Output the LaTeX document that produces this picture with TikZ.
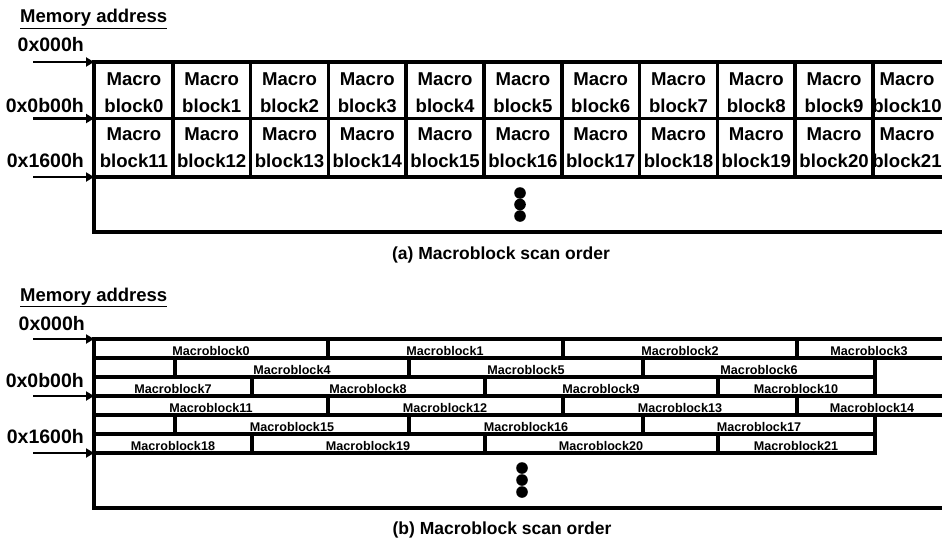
\documentclass[tikz,border=0pt]{standalone}
\usepackage{fontspec}
\setmainfont{Liberation Sans}
\usetikzlibrary{arrows.meta}

\tikzset{
    frame/.style = {line width = 3.5pt},
    ptr/.style = {line width = 2.5pt, -{Triangle[length = 8pt, width = 9pt]}},
    addr/.style = {font = \bfseries\fontsize{19.5}{22}\selectfont, inner sep = 0pt, anchor = base east},
    title/.style = {font = \bfseries\fontsize{18.5}{22}\selectfont, inner sep = 0pt, anchor = base west},
    cell/.style = {font = \bfseries\fontsize{18.6}{27}\selectfont, inner sep = 0pt, align = center, anchor = base},
    mb/.style = {font = \bfseries\fontsize{12.6}{14}\selectfont, inner sep = 0pt, anchor = base},
    capt/.style = {font = \bfseries\fontsize{17.5}{20}\selectfont, inner sep = 0pt, anchor = base}
}

\begin{document}
\begin{tikzpicture}[x = 1pt, y = -1pt]
    \useasboundingbox (0, 0) rectangle (942, 543);

    % (a)
    \node[title] (ttla) at (20, 23) {\underline{Memory address}};
    \node[addr] (a0) at (84, 52) {0x000h};
    \node[addr] (a1) at (84, 112) {0x0b00h};
    \node[addr] (a2) at (84, 167) {0x1600h};
    \coordinate (pa0) at (33, 62);
    \coordinate (pa1) at (33, 118.5);
    \coordinate (pa2) at (33, 177);
    \coordinate (fa0) at (94, 62);
    \coordinate (fa1) at (94, 118.5);
    \coordinate (fa2) at (94, 177);
    \coordinate (fa3) at (94, 232);
    \draw[frame] (942, 62) -- (fa0) -- (fa3) -- (942, 232);
    \draw[frame] (fa1) -- (942, 118.5);
    \draw[frame] (fa2) -- (942, 177);
    \foreach \i in {1, ..., 10}
        \draw[frame] ({95 + 77.8*\i}, 62) -- ({95 + 77.8*\i}, 177);
    \foreach \i in {0, ..., 10} {
        \pgfmathtruncatemacro{\j}{\i + 11}
        \pgfmathsetmacro{\cx}{\i < 10 ? 133.9 + 77.8*\i : 907}
        \node[cell] (ca\i) at (\cx, 112) {Macro\\block\i};
        \node[cell] (ca\j) at (\cx, 167) {Macro\\block\j};
    }
    \draw[ptr] (pa0) -- (fa0);
    \draw[ptr] (pa1) -- (fa1);
    \draw[ptr] (pa2) -- (fa2);
    \foreach \y in {193, 204.5, 216}
        \fill (520, \y) circle (5.8);
    \node[capt] (capa) at (501, 259) {(a) Macroblock scan order};

    % (b)
    \node[title] (ttlb) at (20, 301) {\underline{Memory address}};
    \node[addr] (b0) at (85, 330) {0x000h};
    \node[addr] (b1) at (84, 387) {0x0b00h};
    \node[addr] (b2) at (84, 443) {0x1600h};
    \coordinate (pb0) at (33, 339);
    \coordinate (pb1) at (33, 396);
    \coordinate (pb2) at (33, 453);
    \coordinate (fb0) at (94, 339);
    \coordinate (fb1) at (94, 396);
    \coordinate (fb2) at (94, 453);
    \coordinate (fb3) at (94, 508);
    \draw[frame] (942, 339) -- (fb0) -- (fb3) -- (942, 508);
    \foreach \y in {0, 57} {
        \draw[frame] (94, 358 + \y) -- (942, 358 + \y);
        \draw[frame] (94, 377 + \y) -- (875, 377 + \y);
        \draw[frame] (94, 396 + \y) -- (875, 396 + \y) -- (875, 358 + \y);
        \foreach \x in {328, 563, 797}
            \draw[frame] (\x, 339 + \y) -- (\x, 358 + \y);
        \foreach \x in {175, 409, 643}
            \draw[frame] (\x, 358 + \y) -- (\x, 377 + \y);
        \foreach \x in {252, 485, 718}
            \draw[frame] (\x, 377 + \y) -- (\x, 396 + \y);
    }
    \draw[frame] (fb1) -- (942, 396);
    \foreach \n/\x/\y in {0/211/355.5, 1/445/355.5, 2/680/355.5, 3/869/355.5,
                          4/292/374.5, 5/526/374.5, 6/759/374.5,
                          7/173/393.5, 8/368/393.5, 9/601/393.5, 10/796/393.5,
                          11/211/412.5, 12/445/412.5, 13/680/412.5, 14/872/412.5,
                          15/292/431.5, 16/526/431.5, 17/759/431.5,
                          18/173/450.5, 19/368/450.5, 20/601/450.5, 21/796/450.5}
        \node[mb] (cb\n) at (\x, \y) {Macroblock\n};
    \draw[ptr] (pb0) -- (fb0);
    \draw[ptr] (pb1) -- (fb1);
    \draw[ptr] (pb2) -- (fb2);
    \foreach \y in {468, 480, 492}
        \fill (522, \y) circle (5.8);
    \node[capt] (capb) at (502, 534) {(b) Macroblock scan order};
\end{tikzpicture}
\end{document}
